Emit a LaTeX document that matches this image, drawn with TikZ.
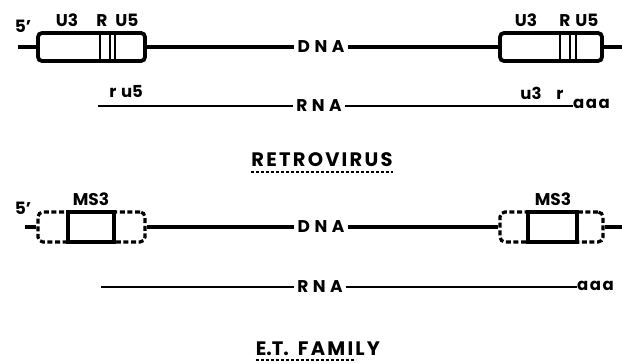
\documentclass[tikz,border=0pt]{standalone}
\usepackage{fontspec}
\setmainfont{Poppins}
\usetikzlibrary{calc}
\begin{document}
\begin{tikzpicture}[x=1pt,y=-1pt,
  ltr/.style={draw, line width=3.8pt, rounded corners=4pt, inner sep=0pt},
  dltr/.style={draw, line width=3.2pt, dash pattern=on 5pt off 2.6pt, rounded corners=5pt, inner sep=0pt},
  core/.style={draw, line width=3.8pt, inner sep=0pt},
  divider/.style={line width=2.8pt},
  dnaline/.style={line width=3.8pt},
  rnaline/.style={line width=2.8pt},
  lbl/.style={font=\fontsize{17pt}{19pt}\selectfont\bfseries, inner sep=0pt, anchor=base},
  small/.style={font=\fontsize{16.5pt}{18pt}\selectfont\bfseries, inner sep=0pt, anchor=base},
  strand/.style={font=\fontsize{17pt}{19pt}\selectfont\bfseries, inner ysep=0pt, inner xsep=3pt},
  title/.style={font=\fontsize{19.5pt}{21pt}\selectfont\bfseries, inner sep=0pt, anchor=base},
  uline/.style={line width=2pt, dash pattern=on 3pt off 2pt}
]
\useasboundingbox (0,0) rectangle (622,363);

% ---------- retrovirus provirus ----------
\node[ltr, minimum width=107pt, minimum height=28pt] (L1) at (91.5,47) {};
\node[ltr, minimum width=102pt, minimum height=28pt] (R1) at (551,47) {};
\draw[divider] (100,33) -- (100,61) (110,33) -- (110,61) (115,33) -- (115,61);
\draw[divider] (560,33) -- (560,61) (570,33) -- (570,61) (576,33) -- (576,61);
\node[strand] (dna1) at (321,47) {D\kern4.5pt N\kern4.5pt A};
\coordinate (s1) at (18,47);
\coordinate (e1) at (622,47);
\draw[dnaline] (s1) -- (L1.west);
\draw[dnaline] (L1.east) -- (dna1.west);
\draw[dnaline] (dna1.east) -- (R1.west);
\draw[dnaline] (R1.east) -- (e1);

\node[lbl] (five1) at (23,33) {5'};
\node[lbl] (u3a) at (67,27) {U3};
\node[lbl] (ra) at (102,27) {R};
\node[lbl] (u5a) at (127,27) {U5};
\node[lbl] (u3b) at (526,27) {U3};
\node[lbl] (rb) at (565,27) {R};
\node[lbl] (u5b) at (587,27) {U5};

% ---------- retrovirus RNA ----------
\node[strand] (rna1) at (319,106) {R\kern4.5pt N\kern4.5pt A};
\coordinate (rs1) at (98,106);
\node[small, anchor=base west] (aaa1) at (573,109) {a\kern1.5pt a\kern1.5pt a};
\draw[rnaline] (rs1) -- (rna1.west);
\draw[rnaline] (rna1.east) -- (rna1.east -| aaa1.west);
\node[small] (rr1) at (113,98) {r};
\node[small] (u5r) at (132,98) {u5};
\node[small] (u3r) at (531,100) {u3};
\node[small] (rr2) at (560,100) {r};

\node[title] (t1) at (322,167) {R\kern2.2pt E\kern2.2pt T\kern2.2pt R\kern2.2pt O\kern2.2pt V\kern2.2pt I\kern2.2pt R\kern2.2pt U\kern2.2pt S};
\draw[uline] ($(t1.base west)+(0,5)$) -- ($(t1.base east)+(0,5)$);

% ---------- E.T. family element ----------
\node[dltr, minimum width=107pt, minimum height=30pt] (L2) at (91.5,227) {};
\node[core, minimum width=46pt, minimum height=30pt] (L2c) at (91,227) {};
\node[dltr, minimum width=103pt, minimum height=30pt] (R2) at (551.5,227) {};
\node[core, minimum width=49pt, minimum height=30pt] (R2c) at (552.5,227) {};
\node[strand] (dna2) at (321,227) {D\kern4.5pt N\kern4.5pt A};
\coordinate (s2) at (25,227);
\coordinate (e2) at (622,227);
\draw[dnaline] (s2) -- (L2.west);
\draw[dnaline] (L2.east) -- (dna2.west);
\draw[dnaline] (dna2.east) -- (R2.west);
\draw[dnaline] (R2.east) -- (e2);

\node[lbl] (five2) at (23,215) {5'};
\node[lbl] (ms3a) at (91,206) {MS3};
\node[lbl] (ms3b) at (553,206) {MS3};

% ---------- E.T. family RNA ----------
\node[strand] (rna2) at (320,287) {R\kern4.5pt N\kern4.5pt A};
\coordinate (rs2) at (101,287);
\node[small, anchor=base west] (aaa2) at (577,291) {a\kern1.5pt a\kern1.5pt a};
\draw[rnaline] (rs2) -- (rna2.west);
\draw[rnaline] (rna2.east) -- (rna2.east -| aaa2.west);

\node[title] (t2) at (318,356) {E.T.\kern9pt F\kern2.2pt A\kern2.2pt M\kern2.2pt I\kern2.2pt L\kern2.2pt Y};
\draw[uline] ($(t2.base west)+(0,4.5)$) -- ($(t2.base west)+(100,4.5)$);
\end{tikzpicture}
\end{document}
